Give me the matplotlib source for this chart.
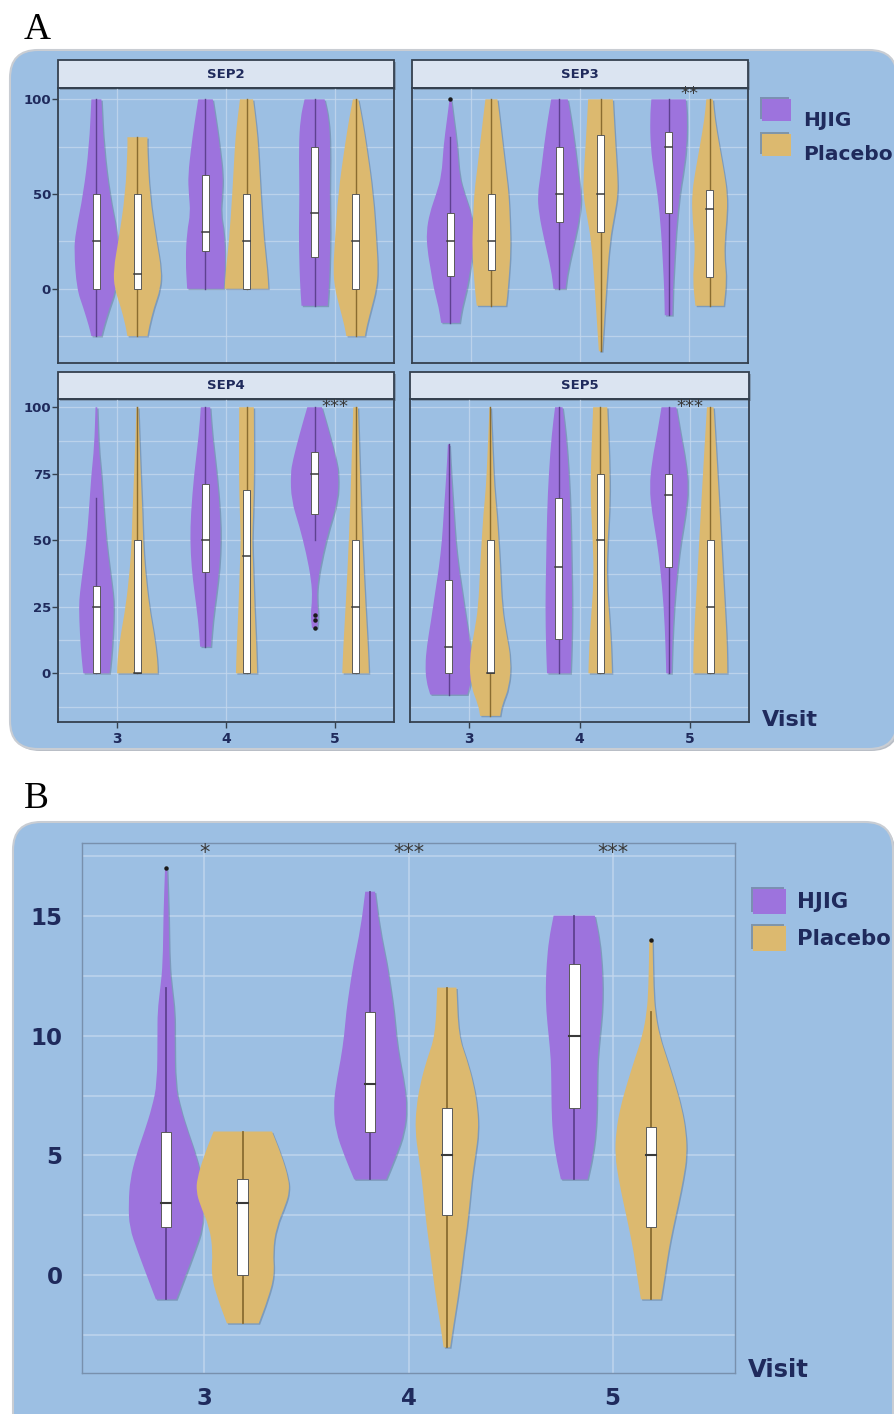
import numpy as np
import matplotlib
matplotlib.use("Agg")
import matplotlib.pyplot as plt
import matplotlib.patheffects as pe
from matplotlib.patches import FancyBboxPatch, Rectangle, PathPatch
from matplotlib.path import Path

W, H = 894, 1414

visits = [3, 4, 5]
groups = ["HJIG", "Placebo"]
colors = {"HJIG": "#9d73dd", "Placebo": "#dcb96f"}
line_colors = {"HJIG": "#5e4190", "Placebo": "#8a6c30"}

# ---- Panel A, SEP2 (violin profiles: y levels and half widths, box = q1/median/q3)
sep2_hjig_y = [[-25, -20, -10, 0, 20, 30, 50, 75, 100],
               [0, 15, 30, 40, 50, 60, 75, 85, 100],
               [-9, 0, 10, 30, 50, 75, 90, 100]]
sep2_hjig_w = [[0.046, 0.067, 0.12, 0.18, 0.205, 0.19, 0.12, 0.067, 0.046],
               [0.168, 0.183, 0.17, 0.138, 0.153, 0.16, 0.13, 0.107, 0.067],
               [0.12, 0.13, 0.138, 0.145, 0.138, 0.145, 0.13, 0.092]]
sep2_hjig_box = [[0, 25, 50], [20, 30, 60], [17, 40, 75]]
sep2_hjig_rng = [[-25, 100], [0, 100], [-9, 100]]
sep2_hjig_out = [[], [], []]

sep2_plac_y = [[-25, -20, -10, 0, 10, 25, 50, 75, 80],
               [0, 10, 25, 50, 75, 85, 100],
               [-25, -20, -10, 0, 10, 25, 50, 75, 90, 100]]
sep2_plac_w = [[0.092, 0.107, 0.15, 0.21, 0.22, 0.175, 0.11, 0.09, 0.092],
               [0.2, 0.19, 0.16, 0.13, 0.107, 0.092, 0.06],
               [0.085, 0.1, 0.145, 0.19, 0.205, 0.19, 0.16, 0.1, 0.058, 0.025]]
sep2_plac_box = [[0, 8, 50], [0, 25, 50], [0, 25, 50]]
sep2_plac_rng = [[-25, 80], [0, 100], [-25, 100]]
sep2_plac_out = [[], [], []]

# ---- SEP3
sep3_hjig_y = [[-18, -10, 0, 10, 20, 30, 40, 50, 60, 75, 90, 100],
               [0, 10, 25, 40, 50, 60, 75, 90, 100],
               [-14, 0, 10, 30, 50, 60, 75, 90, 100]]
sep3_hjig_w = [[0.085, 0.106, 0.152, 0.18, 0.21, 0.22, 0.19, 0.13, 0.08, 0.064, 0.03, 0.008],
               [0.055, 0.076, 0.137, 0.19, 0.2, 0.173, 0.143, 0.106, 0.076],
               [0.035, 0.04, 0.049, 0.067, 0.1, 0.13, 0.165, 0.17, 0.158]]
sep3_hjig_box = [[7, 25, 40], [35, 50, 75], [40, 75, 83]]
sep3_hjig_rng = [[-18, 80], [0, 100], [-14, 100]]
sep3_hjig_out = [[100], [], []]

sep3_plac_y = [[-9, -5, 5, 20, 35, 50, 60, 75, 90, 100],
               [-33, -20, 0, 25, 40, 50, 60, 75, 100],
               [-9, 5, 15, 25, 40, 50, 60, 75, 90, 100]]
sep3_plac_w = [[0.134, 0.143, 0.158, 0.176, 0.17, 0.158, 0.137, 0.106, 0.076, 0.055],
               [0.015, 0.03, 0.052, 0.083, 0.13, 0.158, 0.155, 0.137, 0.113],
               [0.13, 0.155, 0.137, 0.137, 0.16, 0.16, 0.137, 0.09, 0.046, 0.03]]
sep3_plac_box = [[10, 25, 50], [30, 50, 81], [6, 42, 52]]
sep3_plac_rng = [[-9, 100], [-33, 100], [-9, 100]]
sep3_plac_out = [[], [], []]

# ---- SEP4
sep4_hjig_y = [[0, 5, 15, 25, 30, 40, 50, 60, 75, 85, 100],
               [10, 20, 30, 40, 50, 60, 75, 90, 100],
               [17, 22, 28, 35, 45, 55, 65, 75, 80, 90, 100]]
sep4_hjig_w = [[0.12, 0.134, 0.152, 0.16, 0.152, 0.12, 0.09, 0.07, 0.046, 0.02, 0.008],
               [0.049, 0.067, 0.1, 0.128, 0.14, 0.134, 0.104, 0.06, 0.043],
               [0.024, 0.037, 0.021, 0.03, 0.076, 0.137, 0.213, 0.22, 0.2, 0.137, 0.067]]
sep4_hjig_box = [[0, 25, 33], [38, 50, 71], [60, 75, 83]]
sep4_hjig_rng = [[0, 66], [10, 100], [50, 100]]
sep4_hjig_out = [[], [], [17, 20, 22]]

sep4_plac_y = [[0, 5, 15, 25, 40, 50, 60, 75, 100],
               [0, 10, 25, 40, 50, 60, 75, 100],
               [0, 10, 25, 50, 75, 100]]
sep4_plac_w = [[0.186, 0.183, 0.152, 0.107, 0.067, 0.052, 0.046, 0.03, 0.008],
               [0.097, 0.09, 0.073, 0.061, 0.052, 0.061, 0.07, 0.067],
               [0.122, 0.113, 0.091, 0.061, 0.04, 0.021]]
sep4_plac_box = [[0, 0, 50], [0, 44, 69], [0, 25, 50]]
sep4_plac_rng = [[0, 100], [0, 100], [0, 100]]
sep4_plac_out = [[], [], []]

# ---- SEP5
sep5_hjig_y = [[-8, -3, 3, 10, 20, 30, 40, 50, 60, 75, 86],
               [0, 10, 25, 40, 60, 75, 90, 100],
               [0, 10, 25, 40, 50, 60, 70, 80, 90, 100]]
sep5_hjig_w = [[0.168, 0.204, 0.213, 0.2, 0.16, 0.125, 0.088, 0.061, 0.046, 0.021, 0.008],
               [0.107, 0.116, 0.122, 0.116, 0.107, 0.091, 0.064, 0.034],
               [0.024, 0.03, 0.046, 0.079, 0.11, 0.152, 0.177, 0.152, 0.107, 0.067]]
sep5_hjig_box = [[0, 10, 35], [13, 40, 66], [40, 67, 75]]
sep5_hjig_rng = [[-8, 86], [0, 100], [0, 100]]
sep5_hjig_out = [[], [], []]

sep5_plac_y = [[-16, -12, -5, 5, 15, 25, 40, 50, 60, 70, 85, 100],
               [0, 10, 20, 35, 50, 65, 80, 100],
               [0, 10, 20, 35, 50, 70, 85, 100]]
sep5_plac_w = [[0.091, 0.107, 0.174, 0.19, 0.146, 0.107, 0.091, 0.076, 0.061, 0.037, 0.021, 0.006],
               [0.107, 0.1, 0.085, 0.058, 0.067, 0.088, 0.083, 0.064],
               [0.155, 0.152, 0.14, 0.119, 0.1, 0.073, 0.052, 0.03]]
sep5_plac_box = [[0, 0, 50], [0, 50, 75], [0, 25, 50]]
sep5_plac_rng = [[-16, 100], [0, 100], [0, 100]]
sep5_plac_out = [[], [], []]

# ---- Panel B
b_hjig_y = [[-1, 0, 1, 2, 3, 4, 5, 6, 7, 8, 10, 11, 12, 13, 15, 17],
            [4, 5, 6, 7, 8, 9, 10, 11, 12, 13, 14.5, 16],
            [4, 5, 6, 7, 8, 9, 10, 11, 12, 13, 14, 15]]
b_hjig_w = [[0.05, 0.095, 0.139, 0.18, 0.184, 0.176, 0.147, 0.106, 0.069, 0.044, 0.042, 0.042, 0.028, 0.016, 0.013, 0.005],
            [0.078, 0.127, 0.168, 0.18, 0.167, 0.144, 0.127, 0.117, 0.1, 0.082, 0.046, 0.024],
            [0.065, 0.091, 0.106, 0.111, 0.112, 0.114, 0.125, 0.137, 0.14, 0.135, 0.124, 0.101]]
b_hjig_box = [[2, 3, 6], [6, 8, 11], [7, 10, 13]]
b_hjig_rng = [[-1, 12], [4, 16], [4, 15]]
b_hjig_out = [[17], [], []]

b_plac_y = [[-2, -1, 0, 1, 2, 3, 3.5, 4, 5, 6],
            [-3, -2, -1, 0, 1, 2, 3, 4, 5, 6, 7, 8, 9, 10, 12],
            [-1, 0, 1, 2, 3, 4, 5, 6, 7, 8, 9, 10, 11, 12, 14]]
b_plac_w = [[0.078, 0.122, 0.155, 0.147, 0.163, 0.212, 0.227, 0.225, 0.19, 0.143],
            [0.016, 0.033, 0.052, 0.068, 0.082, 0.098, 0.111, 0.122, 0.139, 0.155, 0.15, 0.13, 0.098, 0.057, 0.047],
            [0.049, 0.068, 0.085, 0.108, 0.134, 0.158, 0.176, 0.171, 0.15, 0.117, 0.08, 0.041, 0.02, 0.012, 0.008]]
b_plac_box = [[0, 3, 4], [2.5, 5, 7], [2, 5, 6.2]]
b_plac_rng = [[-2, 6], [-3, 12], [-1, 11]]
b_plac_out = [[], [], [14]]

stars_a = {"SEP3": ["", "", "**"], "SEP4": ["", "", "***"], "SEP5": ["", "", "***"]}
stars_b = ["*", "***", "***"]

NAVY = "#1f2a5c"
BG = "#9cbfe3"
GRID = "#c4d8ee"
DODGE = 0.188


def px_axes(fig, x0, y0, x1, y1):
    return fig.add_axes([x0 / W, 1 - y1 / H, (x1 - x0) / W, (y1 - y0) / H])


def smooth_run(pts):
    # quadratic bezier through the measured outline, pen already at pts[0]
    verts, codes = [], []
    n = len(pts)
    if n > 2:
        verts.append(((pts[0][0] + pts[1][0]) / 2, (pts[0][1] + pts[1][1]) / 2))
        codes.append(Path.LINETO)
        for i in range(1, n - 1):
            nxt = ((pts[i][0] + pts[i + 1][0]) / 2, (pts[i][1] + pts[i + 1][1]) / 2)
            verts += [pts[i], nxt]
            codes += [Path.CURVE3, Path.CURVE3]
    verts.append(pts[-1])
    codes.append(Path.LINETO)
    return verts, codes


def violin_path(x0, y, w):
    right = [(x0 + wi, yi) for yi, wi in zip(y, w)]
    left = [(x0 - wi, yi) for yi, wi in zip(y, w)][::-1]
    verts = [left[-1], right[0]]
    codes = [Path.MOVETO, Path.LINETO]
    v, c = smooth_run(right)
    verts += v
    codes += c
    verts.append(left[0])
    codes.append(Path.LINETO)
    v, c = smooth_run(left)
    verts += v
    codes += c
    verts.append(left[-1])
    codes.append(Path.CLOSEPOLY)
    return Path(verts, codes)


def draw_group(ax, group, ys, ws, boxes, rngs, outs, box_w, lw, med_lw):
    side = -1 if group == "HJIG" else 1
    for i, v in enumerate(visits):
        x0 = v + side * DODGE
        patch = PathPatch(violin_path(x0, ys[i], ws[i]), facecolor=colors[group], lw=0, zorder=3)
        patch.set_path_effects([pe.SimplePatchShadow(offset=(1.0, -1.0), shadow_rgbFace="#2c3e58", alpha=0.28),
                                pe.Normal()])
        ax.add_patch(patch)
        lo, hi = rngs[i]
        ax.plot([x0, x0], [lo, hi], color=line_colors[group], lw=lw, zorder=4)
        q1, med, q3 = boxes[i]
        ax.bar(x0, q3 - q1, bottom=q1, width=box_w, color="white", edgecolor="#5a5a5a",
               linewidth=0.7, zorder=5)
        ax.plot([x0 - box_w / 2, x0 + box_w / 2], [med, med], color="#3a3a3a", lw=med_lw, zorder=6)
        for o in outs[i]:
            ax.plot(x0, o, "o", ms=2.2, color="#1a1a1a", zorder=6)


def style_panel_a(ax, ylim, major, minor, show_y, show_x):
    ax.set_facecolor("none")
    ax.set_xlim(2.46, 5.54)
    ax.set_ylim(*ylim)
    ax.set_xticks(visits)
    ax.set_yticks(major)
    ax.set_yticks(minor, minor=True)
    for y in list(major) + list(minor):
        ax.axhline(y, color=GRID, lw=0.9, alpha=0.8, zorder=1)
    for v in visits:
        ax.axvline(v, color=GRID, lw=0.9, alpha=0.8, zorder=1)
    for s in ax.spines.values():
        s.set_color("#34404f")
        s.set_linewidth(1.3)
    ax.tick_params(axis="y", which="minor", length=0)
    ax.tick_params(axis="y", length=4 if show_y else 0, width=1, color="#34404f",
                   labelleft=show_y, labelsize=9.5, labelcolor=NAVY, pad=1)
    ax.tick_params(axis="x", length=4 if show_x else 0, width=1, color="#34404f",
                   labelbottom=show_x, labelsize=10, labelcolor=NAVY, pad=3)
    for t in ax.get_xticklabels() + ax.get_yticklabels():
        t.set_fontweight("bold")


fig = plt.figure(figsize=(W / 100, H / 100), dpi=100)
fig.patch.set_facecolor("white")

bg = fig.add_axes([0, 0, 1, 1], zorder=-1)
bg.set_xlim(0, W)
bg.set_ylim(H, 0)
bg.axis("off")

for (x0, y0, x1, y1) in [(10, 50, 897, 749), (13, 822, 893, 1450)]:
    bg.add_patch(FancyBboxPatch((x0 + 2, y0 + 2), x1 - x0, y1 - y0,
                                boxstyle="round,pad=0,rounding_size=28",
                                facecolor="#b9bec6", edgecolor="none"))
    bg.add_patch(FancyBboxPatch((x0, y0), x1 - x0, y1 - y0,
                                boxstyle="round,pad=0,rounding_size=28",
                                facecolor=BG, edgecolor="#c9cdd3", lw=1.5))

bg.text(24, 39, "A", fontsize=27, family="Liberation Serif", va="baseline", ha="left", color="black")
bg.text(24, 808, "B", fontsize=27, family="Liberation Serif", va="baseline", ha="left", color="black")

# strip headers
strips = {"SEP2": (58, 60, 394, 88), "SEP3": (412, 60, 748, 88),
          "SEP4": (58, 372, 394, 399), "SEP5": (410, 372, 749, 399)}
for name, (x0, y0, x1, y1) in strips.items():
    r = Rectangle((x0, y0), x1 - x0, y1 - y0, facecolor="#dbe4f1", edgecolor="#34404f", lw=1.3)
    r.set_path_effects([pe.SimplePatchShadow(offset=(1.5, -1.5), alpha=0.3), pe.Normal()])
    bg.add_patch(r)
    bg.text((x0 + x1) / 2, (y0 + y1) / 2, name, ha="center", va="center",
            fontsize=9.5, fontweight="bold", color=NAVY)

# legends and axis titles
for g, (sq_y, txt_y) in zip(groups, [(99, 120.5), (134, 155)]):
    r = Rectangle((762, sq_y), 29, 22, facecolor=colors[g], edgecolor="none")
    r.set_path_effects([pe.SimplePatchShadow(offset=(-1.2, 1.2), alpha=0.3), pe.Normal()])
    bg.add_patch(r)
    bg.text(803, txt_y, g, fontsize=14.5, fontweight="bold", color=NAVY, va="center", ha="left")
for g, (sq_y, txt_y) in zip(groups, [(889, 902), (926, 939)]):
    r = Rectangle((753, sq_y), 33, 25, facecolor=colors[g], edgecolor="none")
    r.set_path_effects([pe.SimplePatchShadow(offset=(-1.2, 1.2), alpha=0.3), pe.Normal()])
    bg.add_patch(r)
    bg.text(797, txt_y, g, fontsize=15.3, fontweight="bold", color=NAVY, va="center", ha="left")
bg.text(762, 720, "Visit", fontsize=16, fontweight="bold", color=NAVY, va="center", ha="left")
bg.text(748, 1370, "Visit", fontsize=17.5, fontweight="bold", color=NAVY, va="center", ha="left")

# ---- Panel A facets
top_lim = (-39.2, 106)
bot_lim = (-18.3, 103.1)
facets = [
    ("SEP2", (58, 88, 394, 363), top_lim, [0, 50, 100], [-25, 25, 75], True, False,
     (sep2_hjig_y, sep2_hjig_w, sep2_hjig_box, sep2_hjig_rng, sep2_hjig_out),
     (sep2_plac_y, sep2_plac_w, sep2_plac_box, sep2_plac_rng, sep2_plac_out)),
    ("SEP3", (412, 88, 748, 363), top_lim, [0, 50, 100], [-25, 25, 75], False, False,
     (sep3_hjig_y, sep3_hjig_w, sep3_hjig_box, sep3_hjig_rng, sep3_hjig_out),
     (sep3_plac_y, sep3_plac_w, sep3_plac_box, sep3_plac_rng, sep3_plac_out)),
    ("SEP4", (58, 399, 394, 722), bot_lim, [0, 25, 50, 75, 100], [-12.5, 12.5, 37.5, 62.5, 87.5], True, True,
     (sep4_hjig_y, sep4_hjig_w, sep4_hjig_box, sep4_hjig_rng, sep4_hjig_out),
     (sep4_plac_y, sep4_plac_w, sep4_plac_box, sep4_plac_rng, sep4_plac_out)),
    ("SEP5", (410, 399, 749, 722), bot_lim, [0, 25, 50, 75, 100], [-12.5, 12.5, 37.5, 62.5, 87.5], False, True,
     (sep5_hjig_y, sep5_hjig_w, sep5_hjig_box, sep5_hjig_rng, sep5_hjig_out),
     (sep5_plac_y, sep5_plac_w, sep5_plac_box, sep5_plac_rng, sep5_plac_out)),
]

for name, box, ylim, major, minor, show_y, show_x, hj, pl in facets:
    ax = px_axes(fig, *box)
    style_panel_a(ax, ylim, major, minor, show_y, show_x)
    draw_group(ax, "HJIG", *hj, box_w=0.062, lw=1.0, med_lw=1.1)
    draw_group(ax, "Placebo", *pl, box_w=0.062, lw=1.0, med_lw=1.1)
    if name in stars_a:
        for v, s in zip(visits, stars_a[name]):
            if s:
                ax.text(v, ylim[1] - 3.0, s, ha="center", va="center", fontsize=13,
                        color="#3a3a3a", clip_on=False, zorder=7)

# ---- Panel B
axb = px_axes(fig, 82, 843, 735, 1373)
axb.set_facecolor("none")
axb.set_xlim(2.4, 5.6)
axb.set_ylim(-4.07, 18.03)
axb.set_xticks(visits)
axb.set_yticks([0, 5, 10, 15])
axb.set_yticks([-2.5, 2.5, 7.5, 12.5, 17.5], minor=True)
for y in [-2.5, 0, 2.5, 5, 7.5, 10, 12.5, 15, 17.5]:
    axb.axhline(y, color=GRID, lw=1.1, alpha=0.85, zorder=1)
for v in visits:
    axb.axvline(v, color=GRID, lw=1.1, alpha=0.85, zorder=1)
for s in axb.spines.values():
    s.set_color("#7890ad")
    s.set_linewidth(1.0)
axb.tick_params(which="both", length=0)
axb.tick_params(axis="y", labelsize=16.5, labelcolor=NAVY, pad=14)
axb.tick_params(axis="x", labelsize=16.5, labelcolor=NAVY, pad=10)
for t in axb.get_xticklabels() + axb.get_yticklabels():
    t.set_fontweight("bold")

draw_group(axb, "HJIG", b_hjig_y, b_hjig_w, b_hjig_box, b_hjig_rng, b_hjig_out,
           box_w=0.052, lw=1.3, med_lw=1.5)
draw_group(axb, "Placebo", b_plac_y, b_plac_w, b_plac_box, b_plac_rng, b_plac_out,
           box_w=0.052, lw=1.3, med_lw=1.5)
for v, s in zip(visits, stars_b):
    axb.text(v, 17.6, s, ha="center", va="center", fontsize=15, color="#3a3a3a", zorder=7)

fig.savefig("out.png", dpi=100, facecolor="white")
